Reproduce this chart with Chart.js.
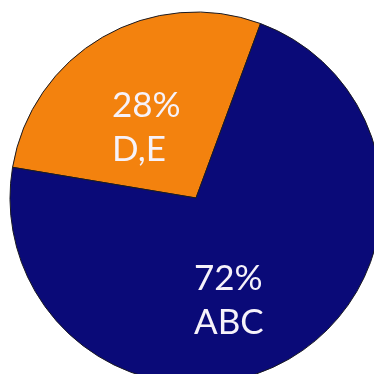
<!DOCTYPE html>
<html>
<head>
<meta charset="utf-8">
<script src="https://cdn.jsdelivr.net/npm/chart.js@4.4.1/dist/chart.umd.min.js"></script>
<style>
  html, body { margin: 0; padding: 0; background: #fff; overflow: hidden; width: 374px; height: 374px; }
  #wrap { position: absolute; left: 0; top: 0; width: 392px; height: 396px; }
</style>
</head>
<body>
<div id="wrap"><canvas id="pie"></canvas></div>
<script>
// data
const labels = ['D,E', 'ABC'];
const values = [28, 72];
const sliceColors = ['#F3820E', '#0A0A78'];

// texte sur les parts : pourcentage puis nom
const sliceText = {
    id: 'sliceText',
    afterDatasetsDraw(chart, args, opts) {
        const ctx = chart.ctx;
        const meta = chart.getDatasetMeta(0);
        const total = values.reduce((a, b) => a + b, 0);
        ctx.save();
        ctx.fillStyle = opts.color;
        ctx.font = opts.font;
        ctx.textAlign = 'left';
        ctx.textBaseline = 'alphabetic';
        meta.data.forEach((arc, i) => {
            const pct = Math.round(values[i] / total * 100) + '%';
            const off = opts.offsets[i];
            const x = arc.x + off[0];
            const y = arc.y + off[1];
            ctx.fillText(pct, x, y);
            ctx.fillText(labels[i], x, y + opts.lineHeight);
        });
        ctx.restore();
    }
};

new Chart(document.getElementById('pie').getContext('2d'), {
    type: 'pie',
    data: {
        labels: labels,
        datasets: [{
            data: values,
            backgroundColor: sliceColors,
            borderColor: '#1a1a22',
            borderWidth: 1
        }]
    },
    options: {
        responsive: true,
        maintainAspectRatio: false,
        animation: false,
        rotation: -80.5,
        radius: 186,
        layout: { padding: 0 },
        plugins: {
            legend: { display: false },
            tooltip: { enabled: false },
            sliceText: {
                color: '#f6f2fa',
                font: '35px Lato',
                lineHeight: 44,
                offsets: [[-84, -81], [-2, 92]]
            }
        }
    },
    plugins: [sliceText]
});
</script>
</body>
</html>
